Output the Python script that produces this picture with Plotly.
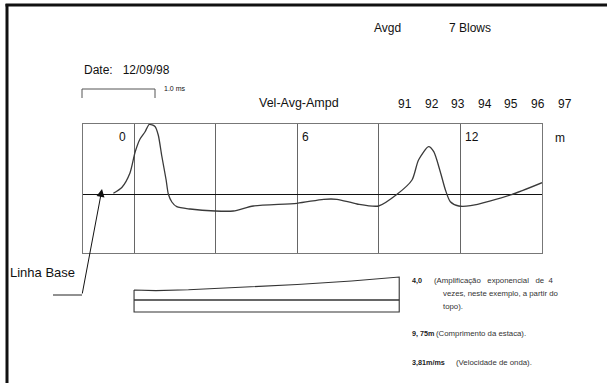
import plotly.graph_objects as go

W, H = 607, 383

# Velocity trace (pile length in m, amplitude in arbitrary units)
pos_m = [-0.76, -0.45, -0.15, 0.04, 0.22, 0.40, 0.56, 0.77, 0.89, 1.02, 1.18, 1.26, 1.39,
         1.57, 2.06, 2.98, 3.65, 4.39, 5.99, 6.97, 7.46, 8.20, 8.99, 9.67, 10.22, 10.46,
         10.83, 11.02, 11.26, 11.45, 11.63, 11.94, 12.37, 13.84, 15.0]
vel = [0.7, 6.5, 21, 42, 55, 62, 69.5, 67.5, 59, 38, 14, 0, -8, -12.7, -15, -17, -17,
       -12, -9.3, -5.3, -5.3, -10, -12, -0.3, 14, 34, 47.3, 42.3, 22.3, 4, -7.7, -12,
       -11.7, -1, 11.3]

dist_labels = ["0", "6", "12"]
dist_label_pos = [0, 6, 12]
blow_numbers = ["91", "92", "93", "94", "95", "96", "97"]

# Pile schematic (length in m, relative height)
pile_len = 9.75
pile_top_x = [0, 0.8, 2, 4, 6, 8, 9.75]
pile_top_y = [22, 21.4, 22.2, 24.5, 27.5, 31, 35]
pile_mid = 12

FONT = "Liberation Sans, Arial, sans-serif"

def px_x(p):
    return p / W

def px_y(p):
    return 1 - p / H

fig = go.Figure()

fig.add_trace(go.Scatter(x=pos_m, y=vel, mode="lines",
                         line=dict(color="#3a3a3a", width=1.3, shape="spline", smoothing=0.7),
                         xaxis="x", yaxis="y", hoverinfo="skip"))

px_outline = pile_top_x + [pile_len, 0, 0]
py_outline = pile_top_y + [0, 0, pile_top_y[0]]
fig.add_trace(go.Scatter(x=px_outline, y=py_outline, mode="lines", line=dict(color="#333", width=1.1),
                         xaxis="x3", yaxis="y3", hoverinfo="skip"))
fig.add_trace(go.Scatter(x=[0, pile_len], y=[pile_mid, pile_mid], mode="lines", line=dict(color="#333", width=1.3),
                         xaxis="x3", yaxis="y3", hoverinfo="skip"))

box_x0, box_x1, box_y0, box_y1 = 83, 542, 124, 253
xr = [-1.877, 15.0]

fig.update_layout(
    width=W, height=H, autosize=False,
    margin=dict(l=0, r=0, t=0, b=0),
    paper_bgcolor="white", plot_bgcolor="rgba(0,0,0,0)",
    showlegend=False,
    xaxis=dict(domain=[px_x(box_x0), px_x(box_x1)], range=xr, showgrid=True, gridcolor="#666", gridwidth=1.1,
               tick0=0, dtick=3, showticklabels=False, ticks="", zeroline=False,
               showline=True, linecolor="#777", linewidth=1.1, mirror=True, anchor="y"),
    yaxis=dict(domain=[px_y(box_y1), px_y(box_y0)], range=[-59, 70], showgrid=False, showticklabels=False,
               ticks="", zeroline=True, zerolinecolor="#111", zerolinewidth=1.1,
               showline=True, linecolor="#777", linewidth=1.1, mirror=True, anchor="x"),
    xaxis2=dict(domain=[0, 1], range=[0, W], visible=False, anchor="y2"),
    yaxis2=dict(domain=[0, 1], range=[H, 0], visible=False, anchor="x2"),
    xaxis3=dict(domain=[px_x(box_x0), px_x(box_x1)], range=xr, visible=False, anchor="y3"),
    yaxis3=dict(domain=[px_y(320), px_y(270)], range=[-8, 42], visible=False, anchor="x3"),
)

shapes = []
# outer frame (left & top) in paper coordinates
shapes.append(dict(type="rect", xref="paper", yref="paper", x0=px_x(5.5), x1=px_x(8.5), y0=0, y1=px_y(4),
                   fillcolor="#111", line=dict(width=0)))
shapes.append(dict(type="rect", xref="paper", yref="paper", x0=px_x(5.5), x1=1, y0=px_y(6.5), y1=px_y(3.5),
                   fillcolor="#111", line=dict(width=0)))
shapes.append(dict(type="path", xref="x2", yref="y2", path="M82,98 L82,89 L155,89 L155,98",
                   line=dict(color="#555", width=1)))
shapes.append(dict(type="line", xref="x2", yref="y2", x0=53, x1=82, y0=295, y1=295, line=dict(color="#222", width=1)))
fig.update_layout(shapes=shapes)

ann = []
def txt(x, y, s, size=11, anchor="left", color="#111", bold=False):
    ann.append(dict(x=x, y=y, xref="x2", yref="y2", text=(f"<b>{s}</b>" if bold else s), showarrow=False,
                    xanchor=anchor, yanchor="middle", font=dict(family=FONT, size=size, color=color)))

txt(372, 28, "Avgd", size=12)
txt(447, 28, "7 Blows", size=12)
txt(82, 70, "Date:&nbsp;&nbsp;&nbsp;12/09/98", size=12)
txt(162, 88, "1.0 ms", size=7)
txt(257, 103, "Vel-Avg-Ampd", size=12.5)
for i, b in enumerate(blow_numbers):
    txt(396 + i * 26.6, 104, b, size=12)
txt(8, 272, "Linha Base", size=13)
txt(553, 138, "m", size=12)

for s, p in zip(dist_labels, dist_label_pos):
    ann.append(dict(x=p, y=57, xref="x", yref="y", text=s, showarrow=False,
                    xanchor=("right" if p == 0 else "left"), xshift=(-6 if p == 0 else 3),
                    yanchor="middle", font=dict(family=FONT, size=12, color="#111")))

ann.append(dict(x=102, y=189, xref="x2", yref="y2", ax=82, ay=295, axref="x2", ayref="y2", text="",
                showarrow=True, arrowhead=2, arrowsize=1.6, arrowwidth=1, arrowcolor="#111"))

small = 7.8
txt(410, 280, "4,0", size=7.2, bold=True, color="#222")
txt(432, 280, "(Amplificação&nbsp;&nbsp;&nbsp;exponencial&nbsp;&nbsp;&nbsp;de&nbsp;&nbsp;4", size=small, color="#333")
txt(441, 293, "vezes, neste exemplo, a partir do", size=small, color="#333")
txt(441, 306, "topo).", size=small, color="#333")
txt(410, 333, "9, 75m", size=7.2, bold=True, color="#222")
txt(434, 333, "(Comprimento da estaca).", size=small, color="#333")
txt(410, 362, "3,81m/ms", size=7.2, bold=True, color="#222")
txt(454, 362, "(Velocidade de onda).", size=small, color="#333")

fig.update_layout(annotations=ann)

fig.write_html("out.html", config={"displayModeBar": False},
               post_script="document.body.style.margin='0';document.body.style.overflow='hidden';")
